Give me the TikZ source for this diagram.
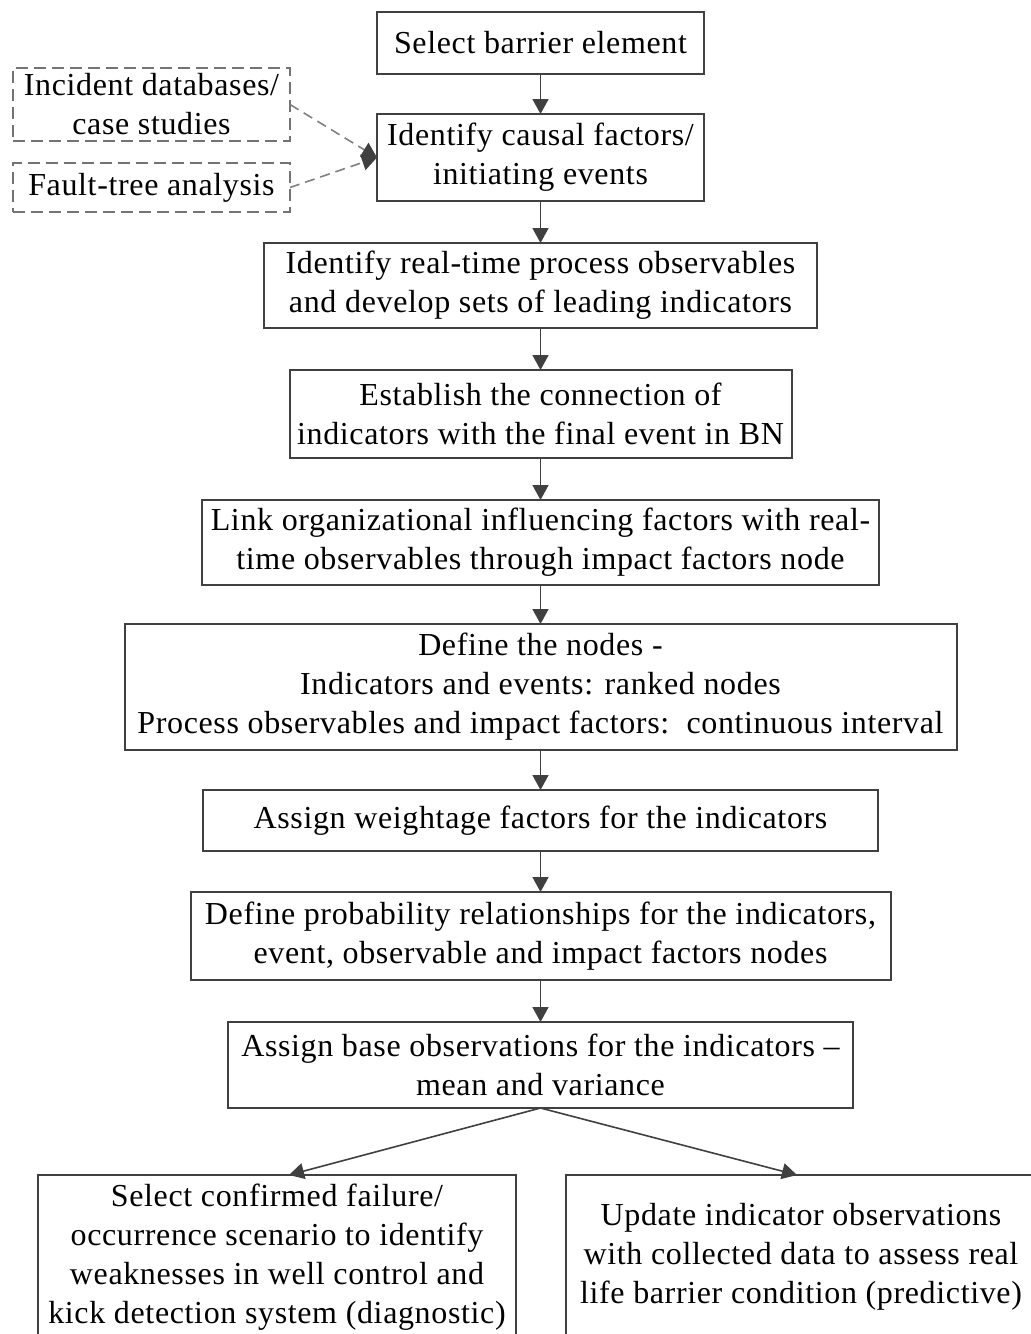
\documentclass[tikz,border=0pt]{standalone}
\usepackage{fontspec}
\setmainfont{Liberation Serif}[LetterSpace=2.0]
\usetikzlibrary{positioning,arrows.meta}

\begin{document}
\begin{tikzpicture}[font=\fontsize{16pt}{19.5pt}\selectfont,
  box/.style={draw=black!75, line width=1pt, align=center, inner sep=0pt, outer sep=0pt},
  src/.style={box, draw=black!55, line width=0.8pt, dash pattern=on 6pt off 3pt},
  arr/.style={-{Triangle[length=7.5pt,width=8pt]}, line width=0.8pt, black!75},
  darr/.style={-{Triangle[length=7.5pt,width=8pt,black!75]}, line width=0.8pt, black!50,
               dash pattern=on 5pt off 3pt}]
\path[use as bounding box, clip] (0,0) rectangle (515.5pt,-667pt);
\node[box, minimum width=163.5pt, minimum height=31pt] (sel) at (270.25pt,-21.5pt)
  {Select barrier element};
\node[box, minimum width=163.5pt, minimum height=43.5pt, below=20pt of sel] (causal)
  {Identify causal factors/\\ initiating events};
\node[src, minimum width=138.5pt, minimum height=36.5pt, left=43.5pt of causal.west, yshift=26.5pt] (incident)
  {Incident databases/\\ case studies};
\node[src, minimum width=138.5pt, minimum height=24.5pt, left=43.5pt of causal.west, yshift=-15pt] (fta)
  {Fault-tree analysis};
\node[box, minimum width=276.5pt, minimum height=42.5pt, below=21pt of causal] (obs)
  {Identify real-time process observables\\ and develop sets of leading indicators};
\node[box, minimum width=251pt, minimum height=44pt, below=21pt of obs] (conn)
  {Establish the connection of\\ indicators with the final event in BN};
\node[box, minimum width=338.5pt, minimum height=42.5pt, below=21pt of conn] (link)
  {Link organizational influencing factors with real-\\ time observables through impact factors node};
\node[box, minimum width=416pt, minimum height=63pt, below=19.5pt of link] (defn)
  {Define the nodes -\\ Indicators and events: ranked nodes\\
   Process observables and impact factors:\ \ continuous interval};
\node[box, minimum width=337.5pt, minimum height=30.5pt, below=20pt of defn] (weight)
  {Assign weightage factors for the indicators};
\node[box, minimum width=350pt, minimum height=44pt, below=20.5pt of weight] (prob)
  {Define probability relationships for the indicators,\\ event, observable and impact factors nodes};
\node[box, minimum width=312.5pt, minimum height=43pt, below=21pt of prob] (base)
  {Assign base observations for the indicators --\\ mean and variance};
\node[box, minimum width=239pt, minimum height=82pt, below=33.5pt of base, xshift=-131.75pt] (diag)
  {Select confirmed failure/\\ occurrence scenario to identify\\ weaknesses in well control and\\
   kick detection system (diagnostic)};
\node[box, minimum width=235pt, minimum height=82pt, below=33.5pt of base, xshift=130.25pt] (pred)
  {Update indicator observations\\ with collected data to assess real\\ life barrier condition (predictive)};
\draw[arr] (sel) -- (causal);
\draw[darr] (incident.east) -- (causal.west);
\draw[darr] (fta.east) -- (causal.west);
\draw[arr] (causal) -- (obs);
\draw[arr] (obs) -- (conn);
\draw[arr] (conn) -- (link);
\draw[arr] (link) -- (defn);
\draw[arr] (defn) -- (weight);
\draw[arr] (weight) -- (prob);
\draw[arr] (prob) -- (base);
\draw[arr] (base.south) -- ([xshift=6pt]diag.north);
\draw[arr] (base.south) -- ([xshift=-2pt]pred.north);
\end{tikzpicture}
\end{document}
